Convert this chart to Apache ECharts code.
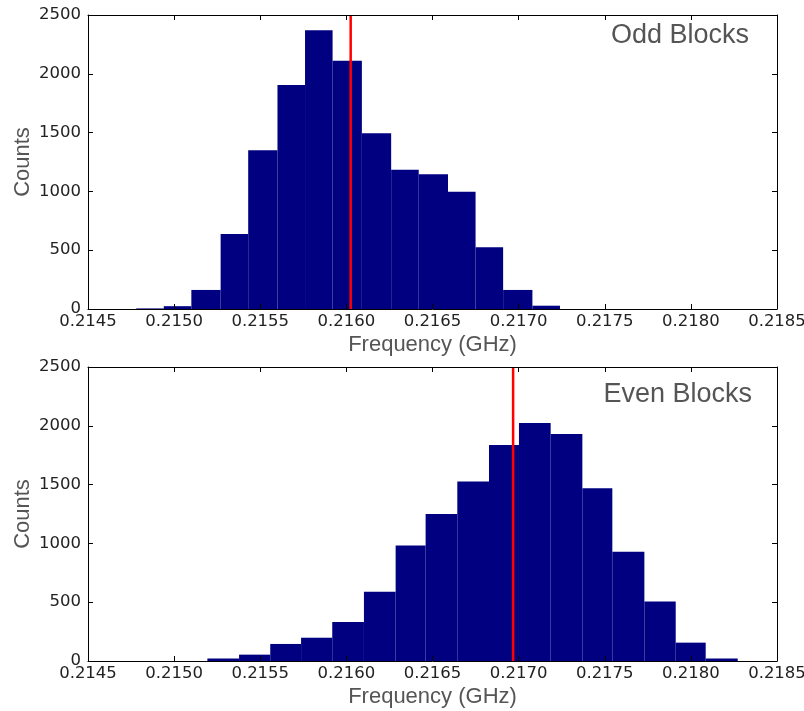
<!DOCTYPE html>
<html>
<head>
<meta charset="utf-8">
<script src="https://cdn.jsdelivr.net/npm/echarts@6/dist/echarts.min.js"></script>
<style>
  html, body { margin: 0; padding: 0; background: #fff; }
  #chart { width: 804px; height: 711px; }
</style>
</head>
<body>
<div id="chart"></div>
<script>
// odd blocks histogram: bin edges (GHz) and counts
const oddEdges = [0.21478, 0.21494, 0.21510, 0.21527, 0.21543, 0.21560, 0.21576, 0.21592,
  0.21609, 0.21626, 0.21642, 0.21659, 0.21675, 0.21691, 0.21708, 0.21724]
const oddCounts = [5, 24, 162, 638, 1349, 1905, 2370, 2111, 1494, 1185, 1145, 997, 525, 162, 28]
const oddMean = 0.216025

// even blocks histogram
const evenEdges = [0.215193, 0.215377, 0.215558, 0.215737, 0.215918, 0.216102, 0.216286, 0.216460,
  0.216644, 0.216828, 0.217002, 0.217186, 0.217370, 0.217544, 0.217730, 0.217912, 0.218086, 0.218272]
const evenCounts = [22, 54, 145, 198, 332, 589, 982, 1250, 1527, 1837, 2024, 1930, 1468, 929, 507, 156, 22]
const evenMean = 0.216968

const xTicks = { min: 0.2145, max: 0.2185, interval: 0.0005 }
const yTicks = { min: 0, max: 2500, interval: 500 }
const panelLabels = ['Odd Blocks', 'Even Blocks']

const chart = echarts.init(document.getElementById('chart'))

const toBins = (edges, counts) => counts.map((c, i) => [edges[i], edges[i + 1], c])

const renderBar = (params, api) => {
  const p0 = api.coord([api.value(0), api.value(2)])
  const p1 = api.coord([api.value(1), 0])
  return {
    type: 'rect',
    shape: { x: p0[0], y: p0[1], width: p1[0] - p0[0], height: p1[1] - p0[1] },
    style: { fill: '#000080' }
  }
}

const tickFont = { fontFamily: '"DejaVu Sans", sans-serif', fontSize: 16.5, color: '#222' }
const nameFont = { fontFamily: '"Liberation Sans", Arial, sans-serif', fontSize: 22, color: '#555' }
const axisLine = { show: true, onZero: false, lineStyle: { color: '#000', width: 1 } }
const tick = { show: true, inside: true, length: 5, lineStyle: { color: '#000' } }

const xAxes = []
const yAxes = []
;[0, 1].forEach(g => {
  xAxes.push({
    type: 'value', gridIndex: g, position: 'bottom', ...xTicks, z: 10,
    name: 'Frequency (GHz)', nameLocation: 'middle', nameGap: 25, nameMoveOverlap: false, nameTextStyle: nameFont,
    axisLine, axisTick: tick, splitLine: { show: false },
    axisLabel: { ...tickFont, margin: 4, formatter: v => v.toFixed(4) }
  })
  xAxes.push({
    type: 'value', gridIndex: g, position: 'top', ...xTicks, z: 10,
    axisLine, axisTick: tick, splitLine: { show: false }, axisLabel: { show: false }
  })
  yAxes.push({
    type: 'value', gridIndex: g, position: 'left', ...yTicks, z: 10,
    name: 'Counts', nameLocation: 'middle', nameGap: 54, nameMoveOverlap: false, nameTextStyle: nameFont,
    axisLine, axisTick: tick, splitLine: { show: false },
    axisLabel: { ...tickFont, margin: 7, formatter: v => String(v) }
  })
  yAxes.push({
    type: 'value', gridIndex: g, position: 'right', ...yTicks, z: 10,
    axisLine, axisTick: tick, splitLine: { show: false }, axisLabel: { show: false }
  })
})

const meanLine = (x, idx) => ({
  type: 'line', xAxisIndex: idx * 2, yAxisIndex: idx * 2, z: 5,
  data: [[x, 0], [x, 2500]], showSymbol: false, symbol: 'none',
  lineStyle: { color: '#ff0000', width: 2.5 }
})

chart.setOption({
  animation: false,
  backgroundColor: '#fff',
  grid: [
    { left: 88, top: 15, width: 689, height: 294, outerBoundsMode: 'none', containLabel: false },
    { left: 88, top: 367, width: 689, height: 294, outerBoundsMode: 'none', containLabel: false }
  ],
  xAxis: xAxes,
  yAxis: yAxes,
  graphic: [
    { type: 'text', right: 55, top: 22, style: { text: panelLabels[0], fontFamily: '"Liberation Sans", Arial, sans-serif', fontSize: 27, fill: '#555' } },
    { type: 'text', right: 52, top: 381, style: { text: panelLabels[1], fontFamily: '"Liberation Sans", Arial, sans-serif', fontSize: 27, fill: '#555' } }
  ],
  series: [
    {
      type: 'custom', xAxisIndex: 0, yAxisIndex: 0, renderItem: renderBar,
      encode: { x: [0, 1], y: 2 }, data: toBins(oddEdges, oddCounts)
    },
    meanLine(oddMean, 0),
    {
      type: 'custom', xAxisIndex: 2, yAxisIndex: 2, renderItem: renderBar,
      encode: { x: [0, 1], y: 2 }, data: toBins(evenEdges, evenCounts)
    },
    meanLine(evenMean, 1)
  ]
})
</script>
</body>
</html>
